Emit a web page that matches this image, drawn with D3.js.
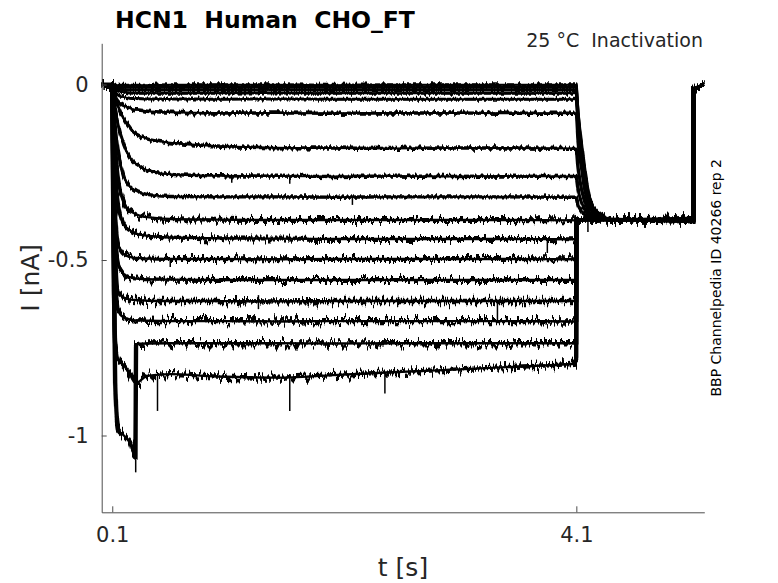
<!DOCTYPE html>
<html>
<head>
  <title>HCN1 Human CHO_FT</title>
  <script src="https://d3js.org/d3.v7.min.js"></script>
  <style>
    body { margin: 0; background: #fff; }
    text { font-family: "DejaVu Sans", sans-serif; fill: #262626; white-space: pre; }
  </style>
</head>
<body>
  <svg id="chart" width="778" height="583"></svg>

  <script>
    // sample times of the 4 s conditioning pulse (s)
    const pulseTimes = [0.01, 0.098, 0.1, 0.11, 0.125, 0.15, 0.2, 0.25, 0.3, 0.305,
                        0.4, 0.6, 1.0, 1.5, 2.0, 2.5, 3.0, 3.5, 4.099];

    // current per sweep at pulseTimes (nA)
    const pulseCurrents = [
      [0.003, 0.003, 0.002, 0.0, -0.002, -0.002, -0.002, -0.002, -0.002, -0.002, -0.002, -0.001, -0.001, -0.001, -0.002, -0.001, -0.001, -0.001, -0.001],
      [0.0, 0.0, 0.0, -0.004, -0.006, -0.007, -0.008, -0.008, -0.008, -0.008, -0.008, -0.008, -0.008, -0.007, -0.008, -0.008, -0.008, -0.008, -0.008],
      [0.0, 0.0, 0.0, -0.006, -0.010, -0.013, -0.015, -0.016, -0.016, -0.016, -0.016, -0.016, -0.016, -0.015, -0.016, -0.016, -0.016, -0.016, -0.016],
      [-0.001, -0.001, -0.001, -0.008, -0.014, -0.019, -0.022, -0.024, -0.025, -0.025, -0.025, -0.025, -0.025, -0.024, -0.025, -0.025, -0.025, -0.025, -0.025],
      [-0.001, -0.001, -0.001, -0.012, -0.022, -0.030, -0.036, -0.039, -0.040, -0.040, -0.041, -0.041, -0.042, -0.041, -0.042, -0.042, -0.042, -0.042, -0.042],
      [0.0, 0.0, 0.0, -0.018, -0.034, -0.048, -0.060, -0.067, -0.072, -0.072, -0.076, -0.079, -0.081, -0.081, -0.082, -0.081, -0.081, -0.082, -0.082],
      [0.0, 0.0, 0.0, -0.022, -0.042, -0.062, -0.098, -0.121, -0.140, -0.141, -0.155, -0.166, -0.175, -0.180, -0.181, -0.182, -0.181, -0.181, -0.182],
      [0.0, 0.0, 0.0, -0.030, -0.070, -0.115, -0.172, -0.207, -0.225, -0.226, -0.244, -0.256, -0.260, -0.261, -0.262, -0.261, -0.262, -0.261, -0.262],
      [0.0, 0.0, 0.0, -0.050, -0.120, -0.190, -0.262, -0.290, -0.302, -0.303, -0.313, -0.319, -0.320, -0.320, -0.321, -0.320, -0.320, -0.320, -0.321],
      [0.0, 0.0, 0.0, -0.080, -0.180, -0.265, -0.335, -0.359, -0.369, -0.370, -0.378, -0.383, -0.385, -0.386, -0.386, -0.386, -0.386, -0.386, -0.387],
      [0.0, 0.0, 0.0, -0.120, -0.250, -0.340, -0.398, -0.415, -0.424, -0.425, -0.431, -0.436, -0.438, -0.439, -0.440, -0.440, -0.440, -0.440, -0.441],
      [0.0, 0.0, 0.0, -0.180, -0.360, -0.455, -0.484, -0.491, -0.494, -0.494, -0.496, -0.497, -0.497, -0.498, -0.497, -0.497, -0.497, -0.497, -0.498],
      [0.0, 0.0, 0.0, -0.220, -0.420, -0.510, -0.540, -0.549, -0.553, -0.553, -0.555, -0.556, -0.557, -0.557, -0.557, -0.557, -0.557, -0.557, -0.557],
      [0.0, 0.0, 0.0, -0.260, -0.490, -0.590, -0.607, -0.612, -0.614, -0.614, -0.616, -0.617, -0.617, -0.618, -0.617, -0.617, -0.617, -0.617, -0.617],
      [0.0, 0.0, 0.0, -0.300, -0.550, -0.645, -0.664, -0.669, -0.672, -0.672, -0.673, -0.674, -0.674, -0.675, -0.674, -0.674, -0.674, -0.674, -0.675],
      [0.0, 0.0, 0.0, -0.450, -0.850, -0.985, -1.000, -1.020, -1.060, -0.740, -0.738, -0.737, -0.737, -0.737, -0.738, -0.737, -0.737, -0.737, -0.737],
      [0.0, 0.0, 0.0, -0.400, -0.740, -0.785, -0.800, -0.825, -0.850, -0.850, -0.830, -0.825, -0.832, -0.835, -0.828, -0.820, -0.813, -0.805, -0.795]
    ];

    // test pulse at 4.1 s
    const tailTimes = [4.1, 4.115, 4.13, 4.15, 4.18, 4.22, 4.28, 4.4, 5.109];
    const tailCurrents = [
      [-0.003, -0.096, -0.154, -0.212, -0.289, -0.347, -0.370, -0.384, -0.386],
      [-0.010, -0.083, -0.136, -0.197, -0.272, -0.336, -0.366, -0.383, -0.381],
      [-0.018, -0.082, -0.127, -0.182, -0.256, -0.326, -0.363, -0.382, -0.389],
      [-0.027, -0.104, -0.155, -0.212, -0.284, -0.342, -0.367, -0.384, -0.385],
      [-0.044, -0.111, -0.152, -0.207, -0.275, -0.337, -0.368, -0.383, -0.392],
      [-0.083, -0.157, -0.203, -0.248, -0.309, -0.355, -0.373, -0.385, -0.379],
      [-0.183, -0.238, -0.271, -0.303, -0.340, -0.369, -0.379, -0.386, -0.387],
      [-0.263, -0.298, -0.321, -0.340, -0.360, -0.376, -0.383, -0.385, -0.383],
      [-0.322, -0.343, -0.353, -0.363, -0.373, -0.381, -0.384, -0.386, -0.390],
      [-0.386, -0.386, -0.386, -0.385, -0.386, -0.385, -0.386, -0.385, -0.386],
      [-0.384, -0.385, -0.388, -0.386, -0.385, -0.386, -0.384, -0.386, -0.384],
      [-0.388, -0.386, -0.384, -0.387, -0.386, -0.384, -0.387, -0.385, -0.388],
      [-0.383, -0.387, -0.386, -0.384, -0.388, -0.386, -0.385, -0.387, -0.382],
      [-0.390, -0.385, -0.387, -0.386, -0.384, -0.387, -0.386, -0.384, -0.391],
      [-0.382, -0.388, -0.385, -0.388, -0.386, -0.385, -0.388, -0.386, -0.385],
      [-0.392, -0.384, -0.386, -0.385, -0.387, -0.386, -0.384, -0.388, -0.387],
      [-0.380, -0.389, -0.387, -0.386, -0.385, -0.388, -0.386, -0.385, -0.380]
    ];

    // return to holding
    const returnTimes = [5.111, 5.13, 5.16, 5.2];
    const returnCurrents = [-0.020, -0.012, -0.005, 0.0];

    // single-sample glitches: [t, from, to]
    const spikes = [
      [0.03, 0.0, -0.016],
      [0.302, -1.06, -1.105],
      [0.49, -0.83, -0.93],
      [0.6, -0.50, -0.52],
      [1.13, -0.262, -0.28],
      [1.36, -0.60, -0.64],
      [1.63, -0.262, -0.283],
      [1.63, -0.835, -0.93],
      [2.17, -0.32, -0.343],
      [2.45, -0.82, -0.88],
      [3.42, -0.62, -0.68],
      [3.85, -0.44, -0.48],
      [4.2, -0.385, -0.42]
    ];

    const xTicks = [0.1, 4.1];
    const xTickLabels = ["0.1", "4.1"];
    const yTicks = [0, -0.5, -1];
    const yTickLabels = ["0", "-0.5", "-1"];

    const svg = d3.select("#chart");
    const plotLeft = 101.7, plotRight = 704.3, plotTop = 43.3, plotBottom = 512.3;

    const x = d3.scaleLinear().domain([0.009, 5.203]).range([plotLeft, plotRight]);
    const y = d3.scaleLinear().domain([-1.2188, 0.1174]).range([plotBottom, plotTop]);

    // jitter so the smooth traces read like noisy recordings
    const defs = svg.append("defs");
    [["quiet", 7], ["noisy", 14], ["noisier", 19]].forEach(([id, amount]) => {
      const f = defs.append("filter").attr("id", id)
        .attr("filterUnits", "userSpaceOnUse")
        .attr("x", 0).attr("y", 0).attr("width", 778).attr("height", 583);
      f.append("feTurbulence").attr("type", "fractalNoise")
        .attr("baseFrequency", "0.45 0.03").attr("numOctaves", 2).attr("seed", 3)
        .attr("result", "n");
      f.append("feColorMatrix").attr("in", "n").attr("type", "matrix")
        .attr("values", "0 0 0 0 0.5  0 1 0 0 0  0 0 0 0 0  0 0 0 0 1")
        .attr("result", "m");
      f.append("feDisplacementMap").attr("in", "SourceGraphic").attr("in2", "m")
        .attr("scale", amount).attr("xChannelSelector", "R").attr("yChannelSelector", "G");
    });

    const line = d3.line()
      .x(d => x(d[0]))
      .y(d => y(d[1]))
      .curve(d3.curveMonotoneX);

    const sweeps = pulseCurrents.map((row, i) =>
      pulseTimes.map((t, j) => [t, row[j]])
        .concat(tailTimes.map((t, j) => [t, tailCurrents[i][j]]))
        .concat(returnTimes.map((t, j) => [t, returnCurrents[j]]))
    );

    const traces = svg.append("g");

    // solid core of each sweep
    traces.append("g").selectAll("path")
      .data(sweeps)
      .join("path")
      .attr("fill", "none")
      .attr("stroke", "#000")
      .attr("stroke-width", (d, i) => i < 9 ? 2 : 2.4)
      .attr("d", line);

    // jittered envelope on top
    traces.append("g").selectAll("path")
      .data(sweeps)
      .join("path")
      .attr("fill", "none")
      .attr("stroke", "#000")
      .attr("stroke-width", (d, i) => i < 5 ? 3 : i < 9 ? 3.4 : i < 13 ? 4 : 4.4)
      .attr("filter", (d, i) => i < 9 ? "url(#quiet)" : i < 13 ? "url(#noisy)" : "url(#noisier)")
      .attr("d", line);

    traces.selectAll("line")
      .data(spikes)
      .join("line")
      .attr("x1", d => x(d[0])).attr("x2", d => x(d[0]))
      .attr("y1", d => y(d[1])).attr("y2", d => y(d[2]))
      .attr("stroke", "#000")
      .attr("stroke-width", 1.5);

    // axes
    const xAxis = d3.axisBottom(x)
      .tickValues(xTicks)
      .tickFormat((d, i) => xTickLabels[i])
      .tickSizeInner(-6).tickSizeOuter(0).tickPadding(15);
    const yAxis = d3.axisLeft(y)
      .tickValues(yTicks)
      .tickFormat((d, i) => yTickLabels[i])
      .tickSizeInner(-5).tickSizeOuter(0).tickPadding(13);

    const gx = svg.append("g").attr("transform", `translate(0,${plotBottom})`).call(xAxis);
    const gy = svg.append("g").attr("transform", `translate(${plotLeft},0)`).call(yAxis);
    [gx, gy].forEach(g => {
      g.select(".domain").attr("stroke", "#4d4d4d");
      g.selectAll(".tick line").attr("stroke", "#4d4d4d");
      g.selectAll(".tick text").attr("fill", "#262626")
        .style("font-size", "21px").style("font-family", "DejaVu Sans, sans-serif");
    });

    // labels
    svg.append("text")
      .attr("x", (plotLeft + plotRight) / 2).attr("y", 576)
      .attr("text-anchor", "middle")
      .style("font-size", "25px")
      .text("t [s]");

    svg.append("text")
      .attr("transform", `translate(39,${(plotTop + plotBottom) / 2}) rotate(-90)`)
      .attr("text-anchor", "middle")
      .style("font-size", "25px")
      .text("I [nA]");

    svg.append("text")
      .attr("x", 115).attr("y", 28)
      .style("font-size", "23.5px").style("font-weight", "bold")
      .style("fill", "#000")
      .text("HCN1  Human  CHO_FT");

    svg.append("text")
      .attr("x", 703).attr("y", 47)
      .attr("text-anchor", "end")
      .style("font-size", "19px")
      .text("25 °C  Inactivation");

    svg.append("text")
      .attr("transform", `translate(721,${(plotTop + plotBottom) / 2}) rotate(-90)`)
      .attr("text-anchor", "middle")
      .style("font-size", "14px")
      .style("fill", "#000")
      .text("BBP Channelpedia ID 40266 rep 2");
  </script>
</body>
</html>
